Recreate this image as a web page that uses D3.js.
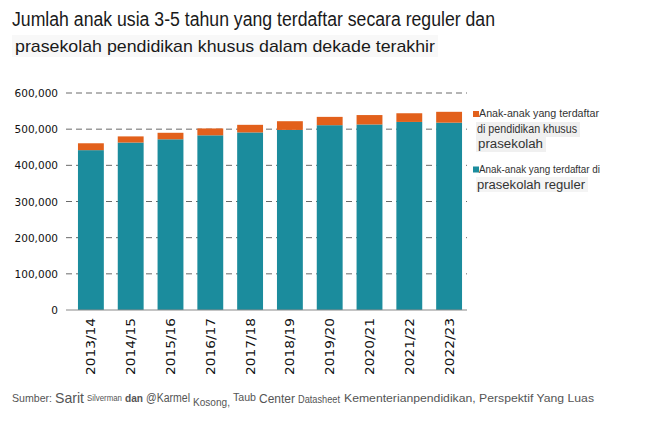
<!DOCTYPE html>
<html>
<head>
<meta charset="utf-8">
<script src="https://cdn.jsdelivr.net/npm/d3@7"></script>
<style>
  body { margin: 0; background: #fff; }
  svg { display: block; }
</style>
</head>
<body>
<script>
var width = 650,
    height = 433;

// data
var years = ["2013/14", "2014/15", "2015/16", "2016/17", "2017/18",
             "2018/19", "2019/20", "2020/21", "2021/22", "2022/23"];
var regular = [442000, 463000, 472000, 483000, 491000, 498000, 511000, 513000, 520000, 518000];
var special = [19000, 17000, 18000, 19000, 21000, 24000, 23000, 26000, 24000, 30000];
var yTicks = [0, 100000, 200000, 300000, 400000, 500000, 600000];

var colors = { regular: "#1b8c9d", special: "#e2601b" };

var svg = d3.select("body").append("svg")
    .attr("width", width)
    .attr("height", height);

var x = d3.scaleBand()
    .domain(years)
    .range([70, 470])
    .paddingInner(0.35)
    .paddingOuter(0.2);

var y = d3.scaleLinear()
    .domain([0, 600000])
    .range([310, 93]);

// title
svg.append("rect")
    .attr("x", 12).attr("y", 35).attr("width", 426).attr("height", 22)
    .attr("fill", "#f8f8f8");

svg.append("text")
    .attr("x", 12).attr("y", 26)
    .attr("font-family", "'Liberation Sans Narrow', 'Liberation Sans', Arial, sans-serif")
    .attr("font-size", 20)
    .attr("fill", "#1a1a1a")
    .attr("textLength", 483).attr("lengthAdjust", "spacingAndGlyphs")
    .text("Jumlah anak usia 3-5 tahun yang terdaftar secara reguler dan");

svg.append("text")
    .attr("x", 15).attr("y", 52)
    .attr("font-family", "'Liberation Sans', Arial, sans-serif")
    .attr("font-size", 17)
    .attr("fill", "#1a1a1a")
    .attr("textLength", 420).attr("lengthAdjust", "spacingAndGlyphs")
    .text("prasekolah pendidikan khusus dalam dekade terakhir");

// gridlines
svg.append("g")
    .selectAll("line")
    .data(yTicks.filter(function (d) { return d > 0; }))
    .enter().append("line")
    .attr("x1", 66).attr("x2", 467)
    .attr("y1", function (d) { return y(d); })
    .attr("y2", function (d) { return y(d); })
    .attr("stroke", "#6a6a6a")
    .attr("stroke-width", 1)
    .attr("stroke-dasharray", "6,4");

// y axis labels
svg.append("g")
    .selectAll("text")
    .data(yTicks)
    .enter().append("text")
    .attr("x", 58)
    .attr("y", function (d) { return y(d) + 4; })
    .attr("text-anchor", "end")
    .attr("font-family", "'DejaVu Sans', Verdana, sans-serif")
    .attr("font-size", 10.5)
    .attr("fill", "#111")
    .text(function (d) { return d3.format(",")(d); });

// stacked bars
var bars = svg.append("g")
    .selectAll("g")
    .data(years)
    .enter().append("g");

bars.append("rect")
    .attr("x", function (d) { return x(d); })
    .attr("width", x.bandwidth())
    .attr("y", function (d, i) { return y(regular[i]); })
    .attr("height", function (d, i) { return y(0) - y(regular[i]); })
    .attr("fill", colors.regular);

bars.append("rect")
    .attr("x", function (d) { return x(d); })
    .attr("width", x.bandwidth())
    .attr("y", function (d, i) { return y(regular[i] + special[i]); })
    .attr("height", function (d, i) { return y(regular[i]) - y(regular[i] + special[i]); })
    .attr("fill", colors.special);

// baseline
svg.append("line")
    .attr("x1", 66).attr("x2", 467)
    .attr("y1", y(0)).attr("y2", y(0))
    .attr("stroke", "#8a8a8a")
    .attr("stroke-width", 1.2);

// x labels
svg.append("g")
    .selectAll("text")
    .data(years)
    .enter().append("text")
    .attr("transform", function (d) {
        return "translate(" + (x(d) + x.bandwidth() / 2 + 4.5) + ",318) rotate(-90)";
    })
    .attr("text-anchor", "end")
    .attr("font-family", "'DejaVu Sans', Verdana, sans-serif")
    .attr("font-size", 12.5)
    .attr("fill", "#111")
    .attr("textLength", 57).attr("lengthAdjust", "spacingAndGlyphs")
    .text(function (d) { return d; });

// legend
var legend = svg.append("g");
legend.append("rect").attr("x", 476).attr("y", 122).attr("width", 104).attr("height", 15).attr("fill", "#f0f0f0");
legend.append("rect").attr("x", 476).attr("y", 137).attr("width", 70).attr("height", 15).attr("fill", "#f0f0f0");
legend.append("rect").attr("x", 476).attr("y", 177).attr("width", 112).attr("height", 15).attr("fill", "#f4f4f4");

legend.append("rect").attr("x", 473).attr("y", 111).attr("width", 6).attr("height", 6).attr("fill", colors.special);
legend.append("rect").attr("x", 473).attr("y", 166.5).attr("width", 6).attr("height", 6).attr("fill", colors.regular);

var legendLines = [
    { text: "Anak-anak yang terdaftar", x: 479, y: 117, w: 120, size: 11.5, narrow: true },
    { text: "di pendidikan khusus", x: 477, y: 133, w: 100, size: 12.5, narrow: true },
    { text: "prasekolah", x: 478, y: 148, w: 65, size: 12.5, narrow: false },
    { text: "Anak-anak yang terdaftar di", x: 479, y: 173, w: 121, size: 11.5, narrow: true },
    { text: "prasekolah reguler", x: 477, y: 189, w: 108, size: 12, narrow: false }
];

legend.selectAll("text.leg")
    .data(legendLines)
    .enter().append("text")
    .attr("class", "leg")
    .attr("x", function (d) { return d.x; })
    .attr("y", function (d) { return d.y; })
    .attr("font-family", function (d) {
        return d.narrow ? "'Liberation Sans Narrow', Arial, sans-serif" : "'Liberation Sans', Arial, sans-serif";
    })
    .attr("font-size", function (d) { return d.size; })
    .attr("fill", "#333")
    .attr("textLength", function (d) { return d.w; })
    .attr("lengthAdjust", "spacingAndGlyphs")
    .text(function (d) { return d.text; });

// source line, in pieces of mixed size as in the original
var sourceParts = [
    { text: "Sumber:", x: 12, y: 402, w: 40, size: 11.5, weight: "normal" },
    { text: "Sarit", x: 55, y: 403, w: 29, size: 15, weight: "normal" },
    { text: "Silverman", x: 87, y: 401, w: 35, size: 8.5, weight: "normal" },
    { text: "dan", x: 125, y: 402, w: 18, size: 11, weight: "bold" },
    { text: "@Karmel", x: 146, y: 402, w: 44, size: 12, weight: "normal" },
    { text: "Kosong,", x: 193, y: 406, w: 37, size: 11, weight: "normal" },
    { text: "Taub", x: 233, y: 401, w: 23, size: 11, weight: "normal" },
    { text: "Center", x: 259, y: 403, w: 36, size: 12, weight: "normal" },
    { text: "Datasheet", x: 298, y: 403, w: 42, size: 11, weight: "normal" },
    { text: "Kementerianpendidikan, Perspektif Yang Luas", x: 344, y: 402, w: 250, size: 11.5, weight: "normal" }
];

svg.append("g")
    .selectAll("text")
    .data(sourceParts)
    .enter().append("text")
    .attr("x", function (d) { return d.x; })
    .attr("y", function (d) { return d.y; })
    .attr("font-family", "'Liberation Sans Narrow', Arial, sans-serif")
    .attr("font-size", function (d) { return d.size; })
    .attr("font-weight", function (d) { return d.weight; })
    .attr("fill", "#555")
    .attr("textLength", function (d) { return d.w; })
    .attr("lengthAdjust", "spacingAndGlyphs")
    .text(function (d) { return d.text; });
</script>
</body>
</html>
